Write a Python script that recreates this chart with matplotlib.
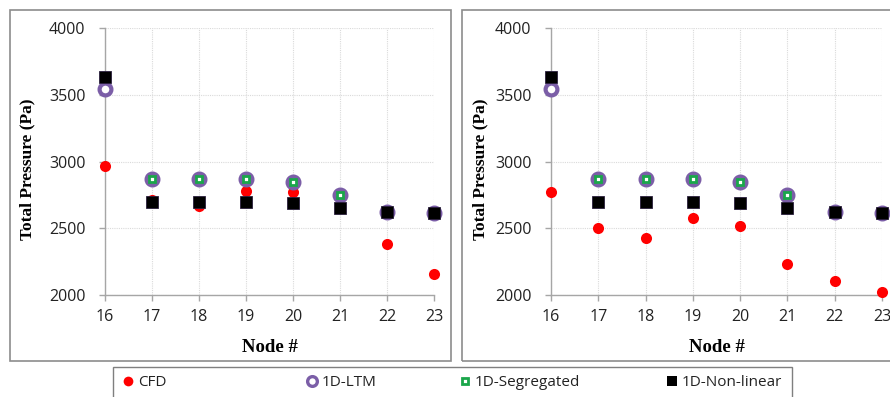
import numpy as np
import matplotlib
matplotlib.use("Agg")
import matplotlib.pyplot as plt
from matplotlib.patches import Rectangle
from matplotlib.lines import Line2D

nodes = [16, 17, 18, 19, 20, 21, 22, 23]

# left case
cfd_a = [2970, 2710, 2665, 2780, 2770, 2745, 2385, 2160]
# right case
cfd_b = [2770, 2500, 2430, 2580, 2520, 2235, 2105, 2020]

ltm = [3540, 2870, 2870, 2870, 2850, 2750, 2620, 2615]
segregated = [np.nan, 2870, 2870, 2870, 2850, 2750, 2620, 2615]
nonlinear = [3635, 2695, 2695, 2695, 2690, 2655, 2620, 2615]

yticks = [2000, 2500, 3000, 3500, 4000]
labels = ["CFD", "1D-LTM", "1D-Segregated", "1D-Non-linear"]

W, H = 890, 397
fig = plt.figure(figsize=(W / 100, H / 100), dpi=100)

purple = "#7b5ea7"
green = "#1aa64a"
red = "#ff0000"


def fx(px):
    return px / W


def fy(py):
    return 1 - py / H


# panel frames
for x0, x1 in [(10, 451), (462, 895)]:
    fig.patches.append(Rectangle((fx(x0), fy(361)), fx(x1 - x0), (361 - 10) / H,
                                 transform=fig.transFigure, fill=False,
                                 edgecolor="#8c8c8c", linewidth=1.2))

panels = [((105, 434), cfd_a, 27), ((551, 882), cfd_b, 480)]

for (px0, px1), cfd, ylab_x in panels:
    ax = fig.add_axes([fx(px0), fy(295), fx(px1 - px0), (295 - 28) / H])
    ax.set_xlim(16, 23)
    ax.set_ylim(2000, 4000)
    ax.set_xticks(nodes)
    ax.set_yticks(yticks)
    ax.grid(True, color="#dadada", linewidth=0.8, linestyle=(0, (1, 1)))
    ax.set_axisbelow(True)
    for s in ["top", "right"]:
        ax.spines[s].set_visible(False)
    for s in ["left", "bottom"]:
        ax.spines[s].set_color("#a6a6a6")
        ax.spines[s].set_linewidth(1.0)
    ax.tick_params(axis="both", colors="#a6a6a6", labelcolor="#222222",
                   length=4, width=1.0, labelsize=11.5)
    ax.tick_params(axis="y", pad=10)
    ax.tick_params(axis="x", pad=6)
    for lab in ax.get_xticklabels() + ax.get_yticklabels():
        lab.set_family("Open Sans")

    ax.plot(nodes, cfd, "o", color=red, markersize=8, markeredgewidth=0,
            clip_on=False, zorder=3)
    ax.plot(nodes, ltm, "o", markerfacecolor="white", markeredgecolor=purple,
            markersize=8.5, markeredgewidth=3.0, clip_on=False, zorder=4)
    ax.plot(nodes, segregated, "s", markerfacecolor="white", markeredgecolor=green,
            markersize=4.5, markeredgewidth=2.0, clip_on=False, zorder=5)
    ax.plot(nodes, nonlinear, "s", color="black", markersize=9,
            markeredgecolor="#2a1f3d", markeredgewidth=0.6,
            clip_on=False, zorder=6)

    ax.set_ylabel("Total Pressure (Pa)", family="Liberation Serif",
                  fontweight="bold", fontsize=12.5)
    ax.yaxis.set_label_coords((ylab_x - px0) / (px1 - px0), 1 - (169 - 28) / 267)
    ax.yaxis.label.set_va("center")
    ax.set_xlabel("Node #", family="Liberation Serif", fontweight="bold",
                  fontsize=13.5)
    ax.xaxis.set_label_coords(0.5, -(348 - 295) / 267)
    ax.xaxis.label.set_va("center")

# legend: one frame, entries placed along it
fig.patches.append(Rectangle((fx(113), fy(400)), fx(792 - 113), (400 - 367) / H,
                             transform=fig.transFigure, fill=False,
                             edgecolor="#7f7f7f", linewidth=1.0))

handles = [
    Line2D([], [], ls="none", marker="o", color=red, markersize=7, markeredgewidth=0),
    Line2D([], [], ls="none", marker="o", markerfacecolor="white",
           markeredgecolor=purple, markersize=7, markeredgewidth=2.4),
    Line2D([], [], ls="none", marker="s", markerfacecolor="white",
           markeredgecolor=green, markersize=5, markeredgewidth=2.0),
    Line2D([], [], ls="none", marker="s", color="black", markersize=7,
           markeredgewidth=0),
]
marker_x = [128, 312, 465, 672]
for h, lab, mx in zip(handles, labels, marker_x):
    leg = fig.legend([h], [lab], loc="center left",
                     bbox_to_anchor=(fx(mx - 6), fy(383)),
                     bbox_transform=fig.transFigure, frameon=False,
                     handlelength=0.8, handletextpad=0.25, borderpad=0,
                     borderaxespad=0,
                     prop={"family": "Open Sans", "size": 11})
    for t in leg.get_texts():
        t.set_color("#222222")

fig.savefig("out.png", dpi=100)
